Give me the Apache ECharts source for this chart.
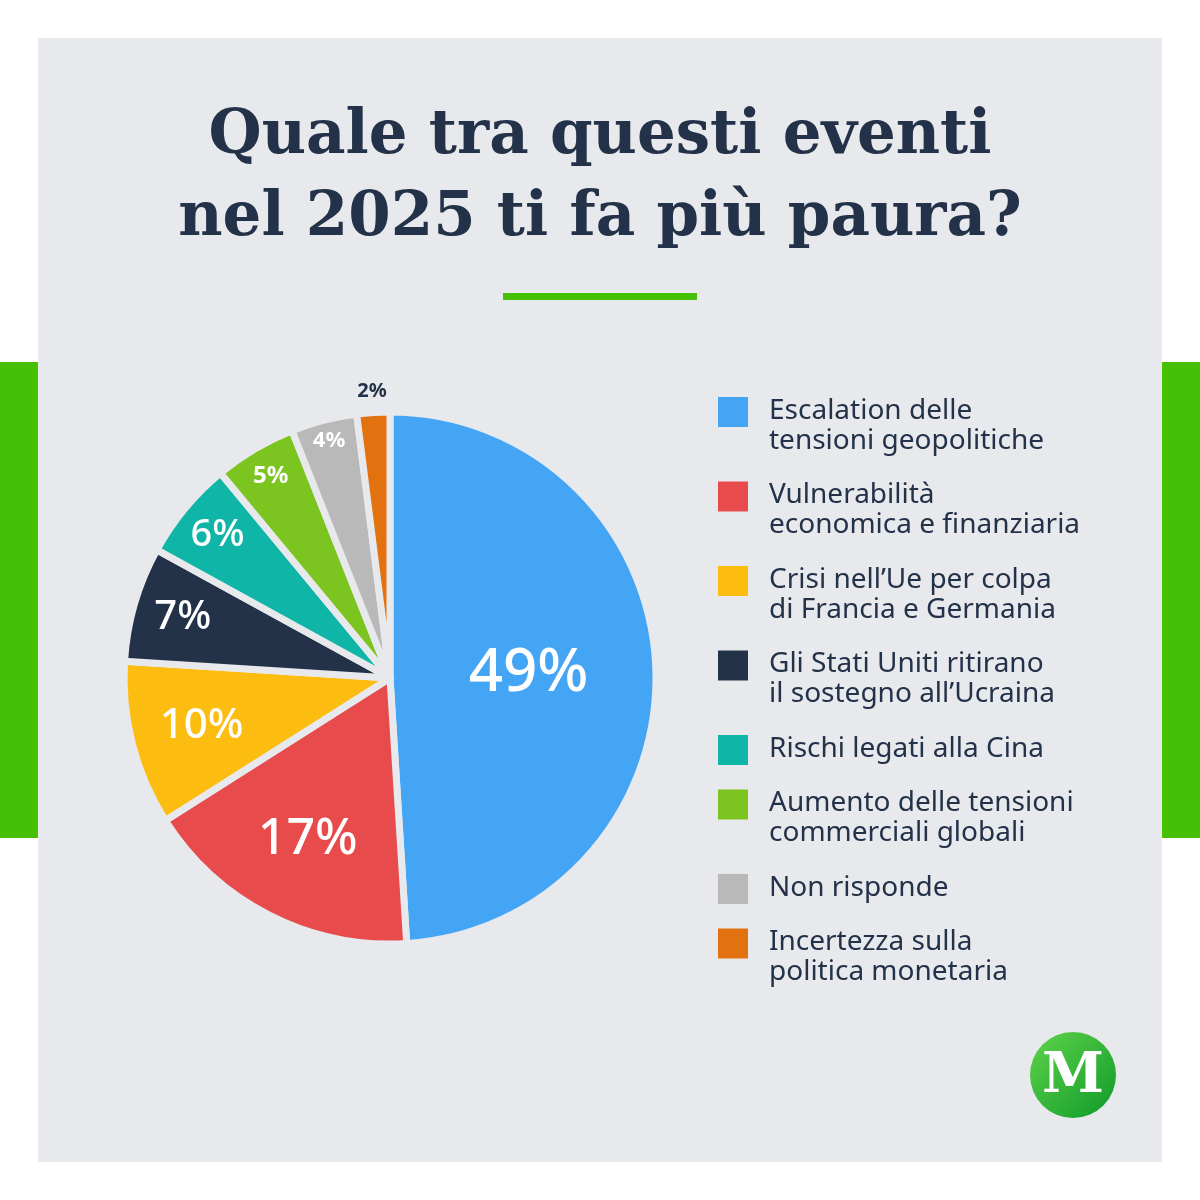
<!DOCTYPE html>
<html><head><meta charset="utf-8">
<script src="https://cdn.jsdelivr.net/npm/echarts@6/dist/echarts.min.js"></script>
<style>html,body{margin:0;padding:0;background:#fff}#c{width:1200px;height:1200px}</style>
</head><body><div id="c"></div>
<script>
const categories = [
  "Escalation delle\ntensioni geopolitiche",
  "Vulnerabilità\neconomica e finanziaria",
  "Crisi nell’Ue per colpa\ndi Francia e Germania",
  "Gli Stati Uniti ritirano\nil sostegno all’Ucraina",
  "Rischi legati alla Cina",
  "Aumento delle tensioni\ncommerciali globali",
  "Non risponde",
  "Incertezza sulla\npolitica monetaria"
];
const values = [49, 17, 10, 7, 6, 5, 4, 2];
const colors = ["#44a5f5","#e84b4b","#fdbd10","#233249","#0fb5a6","#7cc41f","#b9b9b9","#e2720f"];
const labelSizes = [60, 50, 42, 40, 38, 24, 22, 20];
const labelRadiusFrac = [0.51, 0.67, 0.72, 0.8, 0.83, 0.87, 0.91, 1.07];

const PANEL = "#e8e9ed", NAVY = "#233249";
const R = 266;
const chart = echarts.init(document.getElementById('c'));

const graphic = [
  {type:'rect', shape:{x:38,y:38,width:1124,height:1124}, style:{fill:PANEL}, z:-10},
  {type:'rect', shape:{x:0,y:362,width:38,height:476}, style:{fill:'#46bf07'}, z:-10},
  {type:'rect', shape:{x:1162,y:362,width:38,height:476}, style:{fill:'#46bf07'}, z:-10},
  {type:'text', style:{text:'Quale tra questi eventi\nnel 2025 ti fa più paura?', x:600, y:178, align:'center', verticalAlign:'middle',
     font:'bold 61px "DejaVu Serif", serif', fill:NAVY, lineHeight:82}},
  {type:'rect', shape:{x:503,y:293,width:194,height:7}, style:{fill:'#46bf07'}},
  {type:'circle', shape:{cx:1073,cy:1075,r:43}, style:{fill:new echarts.graphic.LinearGradient(0,0,1,1,[{offset:0,color:'#5fd34a'},{offset:1,color:'#0f9a2a'}])}},
  {type:'text', style:{text:'M', x:1073, y:1077, align:'center', verticalAlign:'middle', font:'bold 56px "DejaVu Serif", serif', fill:'#fff'}}
];
let y = 397;
categories.forEach((name, i) => {
  const lines = name.split('\n').length;
  graphic.push({type:'rect', shape:{x:718,y:y,width:30,height:30}, style:{fill:colors[i]}});
  graphic.push({type:'text', style:{text:name, x:769, y:y-1, font:'28px "Noto Sans", sans-serif', fill:NAVY, lineHeight:30, verticalAlign:'top'}});
  y += lines*30 + 24.5;
});

const total = values.reduce((a,b)=>a+b,0);
let acc = 0;
const data = values.map((v,i)=>{
  const mid = (90 - (acc + v/2)/total*360) * Math.PI/180;
  acc += v;
  const d = (labelRadiusFrac[i]-0.5)*R;
  return {
    value:v, name:categories[i], itemStyle:{color:colors[i]},
    label:{fontSize:labelSizes[i], offset:[Math.cos(mid)*d, -Math.sin(mid)*d], color: i===7 ? NAVY : '#fff',
           fontWeight: i>=5 ? 700 : 500}
  };
});

chart.setOption({
  backgroundColor:'#fff',
  graphic: graphic,
  series:[{
    type:'pie', center:[390,678], radius:[0,R], startAngle:90, animation:false, avoidLabelOverlap:false,
    itemStyle:{borderColor:PANEL, borderWidth:7},
    label:{position:'inside', color:'#fff', fontFamily:'"Noto Sans", sans-serif', formatter:'{c}%'},
    labelLine:{show:false},
    labelLayout:{hideOverlap:false},
    data: data
  }]
});
</script></body></html>
